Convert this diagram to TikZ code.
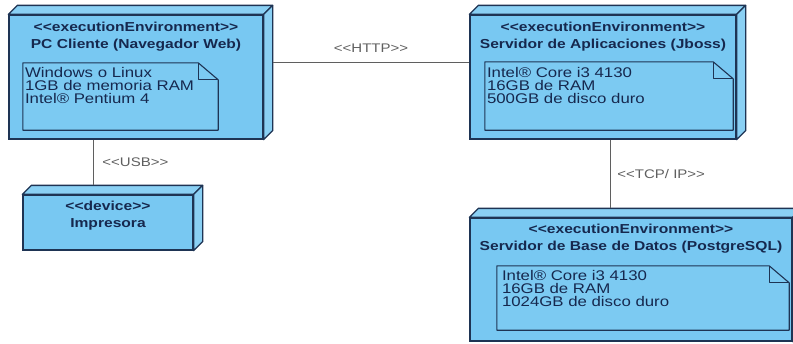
\documentclass[tikz,border=0pt]{standalone}
\usepackage{fontspec}
\setmainfont[FakeStretch=1.2]{Liberation Sans}
\usetikzlibrary{positioning}

\definecolor{nodeblue}{RGB}{120,200,242}
\definecolor{topblue}{RGB}{138,208,244}
\definecolor{noteblue}{RGB}{124,202,242}
\definecolor{edgenavy}{RGB}{30,52,84}
\definecolor{txtnavy}{RGB}{22,40,78}
\definecolor{conngray}{RGB}{95,95,95}

\newcommand{\stereo}[1]{<{}<#1>{}>}
% the two slanted faces behind a node
\newcommand{\nodedepth}[1]{%
  \filldraw[depthface] (#1.north west) -- ([shift={(9pt,9pt)}]#1.north west)
    -- ([shift={(9pt,9pt)}]#1.north east) -- (#1.north east) -- cycle;
  \filldraw[depthface] (#1.north east) -- ([shift={(9pt,9pt)}]#1.north east)
    -- ([shift={(9pt,9pt)}]#1.south east) -- (#1.south east) -- cycle;}
% note outline with folded corner
\newcommand{\notefold}[1]{%
  \filldraw[noteedge] (#1.south west) -- (#1.north west) -- ([xshift=-20pt]#1.north east)
    -- ([yshift=-17pt]#1.north east) -- (#1.south east) -- cycle;
  \draw[noteedge, fill=none] ([xshift=-20pt]#1.north east) -- ([shift={(-20pt,-17pt)}]#1.north east)
    -- ([yshift=-17pt]#1.north east);}
\newcommand{\tightlines}{\lineskiplimit=-6pt\relax}

\begin{document}
\begin{tikzpicture}[x=1pt, y=-1pt,
    face/.style={draw=edgenavy, fill=nodeblue, line width=1.3pt, inner sep=0pt},
    depthface/.style={draw=edgenavy, fill=topblue, line width=1.3pt, line join=round},
    notebox/.style={inner sep=0pt},
    noteedge/.style={draw=edgenavy, fill=noteblue, line width=1.1pt, line join=round},
    hdr/.style={font=\fontsize{13}{17}\selectfont\bfseries, text=txtnavy,
        align=center, inner sep=0pt},
    notetext/.style={font=\fontsize{14}{13.4}\selectfont\tightlines,
        text=txtnavy, align=left, inner sep=0pt, anchor=north west},
    conn/.style={draw=conngray, line width=0.9pt},
    connlabel/.style={font=\fontsize{12.5}{14}\selectfont, text=conngray, inner sep=0pt}]

    \useasboundingbox (0,0) rectangle (793,343);
    \clip (0,0) rectangle (793,343);

    % nodes
    \node[face, minimum width=254pt, minimum height=124pt] (pc) at (136,77) {};
    \nodedepth{pc}
    \node[face, minimum width=170pt, minimum height=55pt] (printer) at (108,222.5) {};
    \nodedepth{printer}
    \node[face, minimum width=266pt, minimum height=124pt] (appsrv) at (603,77) {};
    \nodedepth{appsrv}
    \node[face, minimum width=322pt, minimum height=123pt] (dbsrv) at (631,279.5) {};
    \nodedepth{dbsrv}

    \node[hdr] (pchdr) at ([yshift=-22pt]pc.north)
        {\stereo{executionEnvironment}\\PC Cliente (Navegador Web)};
    \node[hdr] (printerhdr) at ([yshift=-21.5pt]printer.north)
        {\stereo{device}\\Impresora};
    \node[hdr] (appsrvhdr) at ([yshift=-22pt]appsrv.north)
        {\stereo{executionEnvironment}\\Servidor de Aplicaciones (Jboss)};
    \node[hdr] (dbsrvhdr) at ([yshift=-21pt]dbsrv.north)
        {\stereo{executionEnvironment}\\Servidor de Base de Datos (PostgreSQL)};

    % notes
    \node[notebox, minimum width=195pt, minimum height=67pt] (pcnote) at (120.5,96.5) {};
    \notefold{pcnote}
    \node[notetext] (pcspec) at ([shift={(2pt,-4pt)}]pcnote.north west)
        {Windows o Linux\\1GB de memoria RAM\\Intel® Pentium 4};

    \node[notebox, minimum width=248pt, minimum height=68pt] (appsrvnote) at (609,96) {};
    \notefold{appsrvnote}
    \node[notetext] (appsrvspec) at ([shift={(2pt,-5pt)}]appsrvnote.north west)
        {Intel® Core i3 4130\\16GB de RAM\\500GB de disco duro};

    \node[notebox, minimum width=292pt, minimum height=64pt] (dbsrvnote) at (643,298) {};
    \notefold{dbsrvnote}
    \node[notetext] (dbsrvspec) at ([shift={(5pt,-4pt)}]dbsrvnote.north west)
        {Intel® Core i3 4130\\16GB de RAM\\1024GB de disco duro};

    % connectors
    \draw[conn] ([shift={(9pt,15pt)}]pc.east) -- ([yshift=15pt]appsrv.west)
        node[connlabel, midway, above=9pt] (http) {\stereo{HTTP}};
    \draw[conn] ([xshift=-43pt]pc.south) -- ([shift={(-15pt,9pt)}]printer.north)
        node[connlabel, midway, right=9pt] (usb) {\stereo{USB}};
    \draw[conn] ([xshift=7pt]appsrv.south) -- ([shift={(-21pt,9pt)}]dbsrv.north)
        node[connlabel, midway, right=7pt] (tcpip) {\stereo{TCP/ IP}};
\end{tikzpicture}
\end{document}
